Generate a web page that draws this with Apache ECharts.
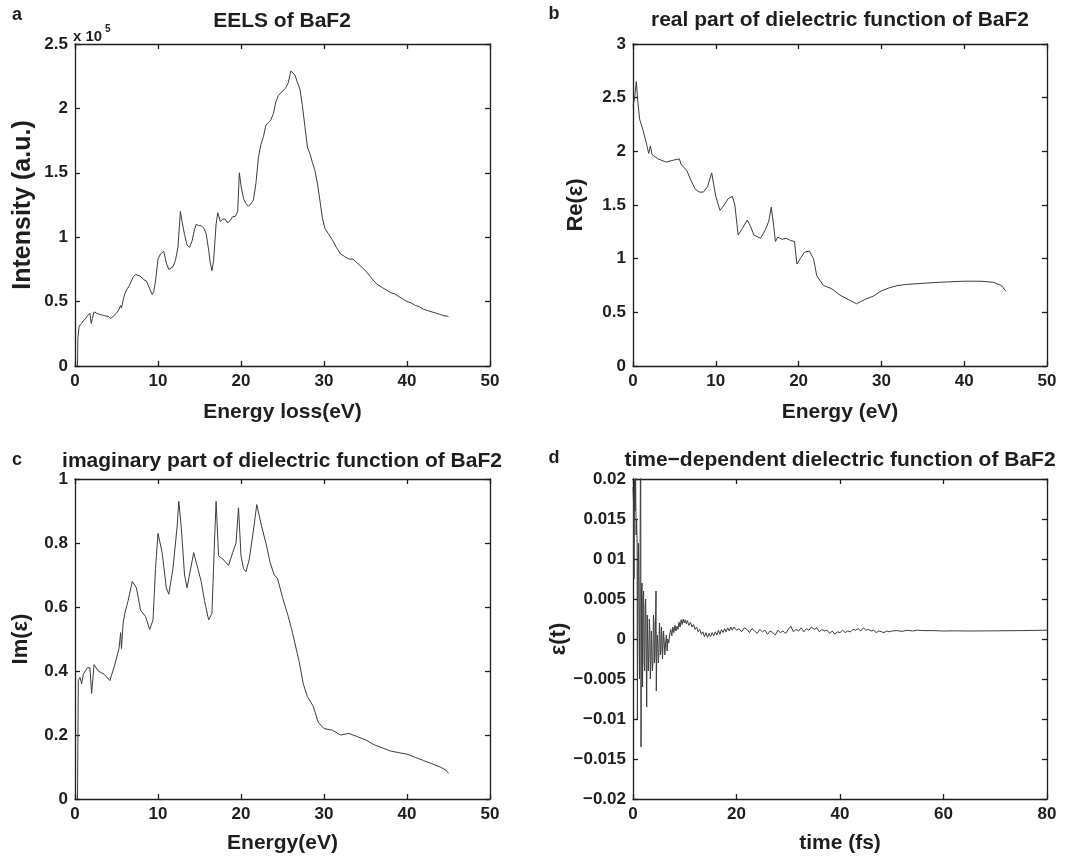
<!DOCTYPE html>
<html>
<head>
<meta charset="utf-8">
<script src="https://cdn.jsdelivr.net/npm/echarts@6/dist/echarts.min.js"></script>
<style>html,body{margin:0;padding:0;background:#fff}#c{width:1077px;height:860px}</style>
</head>
<body>
<div id="c"></div>
<script>
// ---- Panel a: EELS (intensity in units of 1e5) ----
const eelsE = [0.3,0.35,0.5,0.8,1.0,1.3,1.5,1.8,1.95,2.1,2.3,2.6,3.0,3.3,3.6,4.0,4.3,4.6,5.0,5.3,5.5,5.6,5.8,6.0,6.3,6.5,6.8,7.0,7.3,7.5,7.8,8.0,8.3,8.6,9.0,9.3,9.5,9.7,10.0,10.3,10.5,10.7,11.0,11.3,11.5,11.8,12.1,12.4,12.7,12.9,13.2,13.5,13.8,14.1,14.4,14.6,14.9,15.2,15.5,15.8,16.1,16.3,16.5,16.7,17.0,17.2,17.5,17.8,18.1,18.4,18.7,19.0,19.3,19.6,19.8,20.0,20.3,20.6,20.9,21.2,21.5,21.8,22.1,22.4,22.7,23.0,23.3,23.6,23.9,24.2,24.5,24.8,25.1,25.4,25.7,26.0,26.2,26.5,26.8,27.1,27.4,27.7,28.0,28.3,28.6,28.9,29.2,29.5,29.8,30.1,30.5,31.0,31.5,32.0,32.5,33.0,33.5,34.0,34.5,35.0,35.5,36.0,36.5,37.0,37.5,38.0,38.5,39.0,39.5,40.0,40.5,41.0,41.5,42.0,42.5,43.0,43.5,44.0,44.5,45.0];
const eelsI = [0.0,0.22,0.31,0.33,0.35,0.37,0.39,0.41,0.33,0.37,0.42,0.41,0.40,0.395,0.39,0.385,0.37,0.385,0.41,0.44,0.47,0.45,0.51,0.56,0.60,0.62,0.66,0.69,0.71,0.71,0.70,0.69,0.67,0.66,0.60,0.555,0.58,0.66,0.83,0.87,0.88,0.89,0.80,0.75,0.74,0.77,0.82,0.92,1.20,1.12,1.02,0.94,0.92,0.97,1.06,1.10,1.09,1.09,1.07,1.03,0.90,0.80,0.74,0.82,1.10,1.19,1.12,1.14,1.14,1.11,1.13,1.16,1.16,1.20,1.50,1.40,1.30,1.26,1.24,1.26,1.29,1.42,1.62,1.72,1.78,1.87,1.89,1.91,1.96,2.05,2.10,2.12,2.14,2.16,2.20,2.29,2.28,2.26,2.20,2.15,2.02,1.86,1.70,1.65,1.58,1.52,1.42,1.29,1.15,1.07,1.03,0.98,0.92,0.87,0.85,0.83,0.83,0.80,0.77,0.74,0.70,0.66,0.63,0.61,0.59,0.57,0.56,0.54,0.52,0.50,0.49,0.47,0.46,0.44,0.43,0.42,0.41,0.40,0.39,0.385];

// ---- Panel b: real part ----
const reE = [0.0,0.2,0.4,0.6,0.8,1.2,1.6,1.9,2.1,2.3,3.0,4.0,5.0,5.6,5.8,6.5,7.0,7.5,8.0,8.5,9.0,9.5,10.0,10.5,11.0,11.5,12.0,12.3,12.7,13.2,13.8,14.2,14.6,15.4,16.0,16.4,16.7,17.0,17.2,17.5,18.0,18.5,19.0,19.5,19.8,20.2,20.7,21.3,21.8,22.2,23.0,24.0,25.0,26.0,27.0,28.0,29.0,30.0,31.0,32.0,33.0,35.0,37.0,40.0,42.0,43.5,44.5,45.0];
const reV = [2.42,2.50,2.65,2.45,2.30,2.20,2.08,1.98,2.05,1.97,1.93,1.90,1.92,1.93,1.88,1.82,1.73,1.65,1.62,1.62,1.67,1.80,1.58,1.45,1.50,1.56,1.58,1.50,1.22,1.28,1.36,1.30,1.22,1.19,1.27,1.35,1.48,1.30,1.16,1.20,1.18,1.19,1.17,1.16,0.95,1.00,1.06,1.07,1.00,0.84,0.75,0.72,0.66,0.62,0.58,0.62,0.65,0.70,0.73,0.75,0.76,0.77,0.78,0.79,0.79,0.78,0.75,0.70];

// ---- Panel c: imaginary part ----
const imE = [0.3,0.4,0.6,0.8,1.0,1.5,1.8,2.0,2.3,2.8,3.5,4.2,4.8,5.3,5.5,5.6,5.8,6.0,6.4,6.9,7.4,7.9,8.5,9.0,9.4,9.7,10.0,10.5,11.0,11.3,11.8,12.3,12.5,12.8,13.2,13.5,14.3,14.8,15.2,15.6,16.1,16.5,16.8,17.0,17.3,17.8,18.5,19.0,19.4,19.7,20.0,20.3,20.6,21.0,21.5,21.9,22.5,23.0,23.5,24.0,24.4,25.0,25.7,26.2,27.0,27.5,28.0,28.7,29.3,30.0,31.0,32.0,33.0,34.0,35.0,36.0,37.0,38.0,39.0,40.0,41.0,42.0,43.0,44.0,44.7,45.0];
const imV = [0.0,0.37,0.38,0.36,0.39,0.41,0.41,0.33,0.42,0.40,0.39,0.37,0.42,0.47,0.52,0.47,0.55,0.58,0.62,0.68,0.66,0.59,0.57,0.53,0.56,0.72,0.83,0.77,0.66,0.64,0.72,0.85,0.93,0.85,0.70,0.66,0.77,0.72,0.68,0.62,0.56,0.58,0.80,0.93,0.76,0.75,0.73,0.77,0.80,0.91,0.76,0.72,0.71,0.75,0.84,0.92,0.85,0.80,0.74,0.70,0.69,0.63,0.57,0.52,0.43,0.36,0.32,0.29,0.24,0.22,0.215,0.20,0.205,0.195,0.185,0.17,0.16,0.15,0.145,0.14,0.13,0.12,0.11,0.10,0.09,0.08];

// ---- Panel d: time-dependent dielectric function ----
const tFs = [0,0.1,0.2,0.3,0.4,0.5,0.6,0.7,0.8,0.85,0.95,1.05,1.15,1.25,1.35,1.45,1.5,1.55,1.65,1.75,1.85,1.95,2.05,2.15,2.25,2.35,2.45,2.55,2.65,2.75,2.85,2.95,3.05,3.15,3.25,3.35,3.45,3.55,3.65,3.75,3.85,3.95,4.05,4.15,4.25,4.35,4.45,4.5,4.6,4.7,4.8,4.9,5.0,5.1,5.2,5.3,5.4,5.5,5.6,5.7,5.8,5.9,6.0,6.15,6.3,6.45,6.6,6.75,6.9,7.1,7.3,7.5,7.7,7.9,8.1,8.3,8.5,8.7,8.9,9.1,9.3,9.5,9.7,9.9,10.1,10.3,10.5,10.8,11.1,11.4,11.7,12.0,12.3,12.6,12.9,13.2,13.5,13.8,14.1,14.4,14.7,15.0,15.3,15.6,15.9,16.2,16.5,16.8,17.1,17.4,17.7,18.0,18.3,18.6,18.9,19.2,19.5,20,20.5,21,21.5,22,22.5,23,23.5,24,24.5,25,25.5,26,26.5,27,27.5,28,28.5,29,29.5,30,30.5,31,31.5,32,32.5,33,33.5,34,34.5,35,35.5,36,36.5,37,37.5,38,38.5,39,39.5,40,40.5,41,41.5,42,42.5,43,43.5,44,44.5,45,45.5,46,46.5,47,47.5,48,48.5,49,49.5,50,51,52,53,54,55,56,58,60,62,65,70,75,80];
const epsT = [0.019,0.017,0.0075,0.02,0.016,0.021,0.013,0.015,0.012,-0.010,0.009,0.012,0.004,-0.005,0.008,0.024,0.02,-0.0135,0.006,0.007,-0.006,0.005,0.006,-0.003,-0.004,0.004,0.005,-0.002,-0.0085,0.003,0.003,-0.004,-0.002,0.0025,0.001,-0.005,-0.003,0.001,0.001,-0.004,-0.003,0.003,0.002,-0.003,-0.002,0.002,0.006,-0.0065,-0.002,0.0005,-0.001,-0.003,-0.002,0.002,0.001,-0.002,-0.0015,0.0015,0.0005,-0.0025,-0.001,0.001,0.0,-0.002,-0.0005,0.0005,-0.0015,0.0,-0.0005,0.0006,0.0012,0.0004,0.0015,0.0008,0.0017,0.001,0.0016,0.0012,0.0021,0.0015,0.0024,0.0018,0.0025,0.002,0.0024,0.0019,0.0023,0.0017,0.0021,0.0015,0.0018,0.0012,0.0015,0.0009,0.0012,0.0006,0.0009,0.0003,0.0008,0.0002,0.0007,0.0003,0.0008,0.0004,0.0009,0.0005,0.0011,0.0006,0.0012,0.0008,0.0013,0.0009,0.0014,0.001,0.0015,0.0011,0.0015,0.0011,0.0013,0.0009,0.0014,0.0012,0.0008,0.0013,0.001,0.0007,0.0012,0.0009,0.0011,0.0006,0.001,0.0008,0.0005,0.0011,0.0008,0.001,0.0007,0.0012,0.0016,0.0009,0.0012,0.001,0.0014,0.0009,0.0013,0.0011,0.0015,0.0012,0.0014,0.0009,0.0012,0.001,0.0011,0.0007,0.001,0.0006,0.0009,0.0008,0.0011,0.0008,0.001,0.0009,0.0012,0.0011,0.0013,0.001,0.0014,0.0011,0.0012,0.001,0.0011,0.0008,0.001,0.0009,0.0008,0.001,0.0009,0.001,0.00105,0.00095,0.0011,0.001,0.0011,0.00105,0.00105,0.001,0.00102,0.001,0.00102,0.00105,0.0011];
const dTickValues = [-0.02,-0.015,-0.01,-0.005,0,0.005,0.01,0.015,0.02];
const dTickLabels = ['\u22120.02','\u22120.015','\u22120.01','\u22120.005','0','0.005','0 01','0.015','0.02'];

const titles = ['EELS of BaF2','real part of dielectric function of BaF2','imaginary part of dielectric function of BaF2','time\u2212dependent dielectric function of BaF2'];
const letters = ['a','b','c','d'];
const xNames = ['Energy loss(eV)','Energy (eV)','Energy(eV)','time (fs)'];
const yNames = ['Intensity (a.u.)','Re(\u03b5)','Im(\u03b5)','\u03b5(t)'];

const FONT = '"Liberation Sans", Arial, Helvetica, sans-serif';
const INK = '#1e1e1e';
const LINE = '#3c3c3c';

const grids = [
  {left:75, top:44, width:415, height:322},
  {left:633, top:44, width:414, height:322},
  {left:75, top:479, width:415, height:320},
  {left:633, top:479, width:414, height:320}
];
const xr = [[0,50,10],[0,50,10],[0,50,10],[0,80,20]];
const yr = [[0,2.5,0.5],[0,3,0.5],[0,1,0.2],[-0.02,0.02,0.005]];

function pairs(xs, ys){ return xs.map((x,i)=>[x, ys[i]]); }
const seriesData = [pairs(eelsE, eelsI), pairs(reE, reV), pairs(imE, imV), pairs(tFs, epsT)];

const axLine = {show:true, onZero:false, lineStyle:{color:INK, width:1.3}};
const axTick = {show:true, inside:true, length:5, lineStyle:{color:INK, width:1.3}};
const lab = {fontFamily:FONT, fontWeight:'bold', fontSize:17, color:INK};

function yFmt(i){
  if(i===3) return v => { const k = dTickValues.findIndex(t=>Math.abs(t-v)<1e-9); return k>=0 ? dTickLabels[k] : ''; };
  return v => String(Math.round(v*100)/100);
}

const xAxis = [], yAxis = [], series = [];
grids.forEach((g,i)=>{
  xAxis.push({type:'value', gridIndex:i, position:'bottom', min:xr[i][0], max:xr[i][1], interval:xr[i][2],
    axisLine:axLine, axisTick:axTick, splitLine:{show:false},
    axisLabel:Object.assign({margin:7}, lab),
    name:xNames[i], nameLocation:'middle', nameGap: (i<2?36:34),
    nameTextStyle:{fontFamily:FONT, fontWeight:'bold', fontSize:21, color:INK}});
  xAxis.push({type:'value', gridIndex:i, position:'top', min:xr[i][0], max:xr[i][1], interval:xr[i][2],
    axisLine:axLine, axisTick:axTick, splitLine:{show:false}, axisLabel:{show:false}});
  yAxis.push({type:'value', gridIndex:i, position:'left', min:yr[i][0], max:yr[i][1], interval:yr[i][2],
    axisLine:axLine, axisTick:axTick, splitLine:{show:false},
    axisLabel:Object.assign({margin:7, formatter:yFmt(i)}, lab),
    name:yNames[i], nameLocation:'middle', nameRotate:90,
    nameGap: [39, 46, 43, 62][i],
    nameTextStyle:{fontFamily:FONT, fontWeight:'bold', fontSize:(i===0?25:22), color:INK}});
  yAxis.push({type:'value', gridIndex:i, position:'right', min:yr[i][0], max:yr[i][1], interval:yr[i][2],
    axisLine:axLine, axisTick:axTick, splitLine:{show:false}, axisLabel:{show:false}});
  series.push({type:'line', xAxisIndex:2*i, yAxisIndex:2*i, data:seriesData[i], showSymbol:false,
    symbol:'none', clip:true, lineStyle:{color:LINE, width:1}, animation:false});
});

const titlePos = [[282,21],[840,20],[282,461],[840,460]];
const letterPos = [[17,15],[554,14],[17,460],[554,458]];
const graphic = [];
titles.forEach((t,i)=>{
  graphic.push({type:'text', x:titlePos[i][0], y:titlePos[i][1],
    style:{text:t, fill:INK, font:'bold 21px '+FONT, textAlign:'center', textVerticalAlign:'middle'}});
  graphic.push({type:'text', x:letterPos[i][0], y:letterPos[i][1],
    style:{text:letters[i], fill:INK, font:'bold 18px '+FONT, textAlign:'center', textVerticalAlign:'middle'}});
});
graphic.push({type:'text', x:73, y:37, style:{text:'x 10', fill:INK, font:'bold 15px '+FONT, textAlign:'left', textVerticalAlign:'middle'}});
graphic.push({type:'text', x:105, y:29, style:{text:'5', fill:INK, font:'bold 10px '+FONT, textAlign:'left', textVerticalAlign:'middle'}});

const chart = echarts.init(document.getElementById('c'), null, {renderer:'canvas'});
chart.setOption({
  backgroundColor:'#ffffff',
  animation:false,
  grid:grids,
  xAxis:xAxis,
  yAxis:yAxis,
  series:series,
  graphic:graphic
});
</script>
</body>
</html>
